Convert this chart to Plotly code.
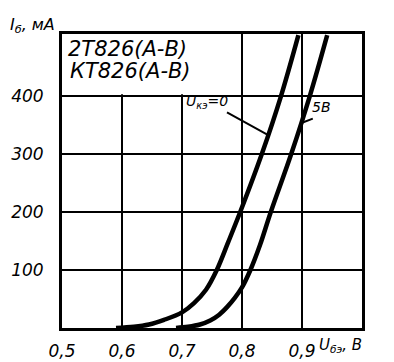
import plotly.graph_objects as go

# Curve data (U_бэ in V, I_б in mA)
u_ce0_x = [0.59, 0.62, 0.645, 0.67, 0.70, 0.72, 0.74, 0.758, 0.777, 0.797, 0.833, 0.865, 0.894]
u_ce0_y = [0, 2, 6, 14, 27, 43, 66, 100, 148, 200, 300, 400, 505]

u_ce5_x = [0.69, 0.71, 0.73, 0.747, 0.762, 0.775, 0.788, 0.80, 0.814, 0.830, 0.848, 0.882, 0.913, 0.942]
u_ce5_y = [0, 2, 6, 13, 23, 36, 52, 70, 100, 143, 200, 300, 400, 505]

x_ticks = [0.5, 0.6, 0.7, 0.8, 0.9]
x_tick_labels = ["0,5", "0,6", "0,7", "0,8", "0,9"]
y_ticks = [100, 200, 300, 400]
y_tick_labels = ["100", "200", "300", "400"]

FONT = "DejaVu Sans"
BLACK = "#000000"

fig = go.Figure()
for xs, ys in [(u_ce0_x, u_ce0_y), (u_ce5_x, u_ce5_y)]:
    fig.add_trace(go.Scatter(x=xs, y=ys, mode="lines",
                             line=dict(color=BLACK, width=4.5, shape="spline", smoothing=1.0),
                             showlegend=False, hoverinfo="skip"))

# leader lines for the curve labels
fig.add_trace(go.Scatter(x=[0.775, 0.843], y=[372, 333], mode="lines",
                         line=dict(color=BLACK, width=2), showlegend=False, hoverinfo="skip"))
fig.add_trace(go.Scatter(x=[0.918, 0.898], y=[361, 353], mode="lines",
                         line=dict(color=BLACK, width=2), showlegend=False, hoverinfo="skip"))

# white area behind the title block (hides grid)
fig.add_shape(type="rect", xref="x", yref="y", x0=0.5, x1=0.705, y0=403, y1=507,
              fillcolor="white", line=dict(width=0), layer="between")

fig.update_layout(
    width=394, height=362,
    margin=dict(l=54, r=40, t=26, b=42, autoexpand=False),
    paper_bgcolor="white", plot_bgcolor="white",
    font=dict(family=FONT, color=BLACK, size=16, style="italic"),
)
fig.update_xaxes(range=[0.5, 1.0], tickvals=x_ticks, ticktext=x_tick_labels,
                 showgrid=True, gridcolor=BLACK, gridwidth=2, automargin=False,
                 showline=True, linecolor=BLACK, linewidth=3, mirror=True,
                 ticks="", ticklabelstandoff=6, zeroline=False,
                 tickfont=dict(family=FONT, size=17, style="italic", color=BLACK))
fig.update_yaxes(range=[0, 507], tickvals=y_ticks, ticktext=y_tick_labels,
                 showgrid=True, gridcolor=BLACK, gridwidth=2, automargin=False,
                 showline=True, linecolor=BLACK, linewidth=3, mirror=True,
                 ticks="", ticklabelstandoff=12, zeroline=False,
                 tickfont=dict(family=FONT, size=17, style="italic", color=BLACK))

ann_font = dict(family=FONT, color=BLACK, style="italic")
fig.add_annotation(xref="paper", yref="paper", x=-0.18, y=1.0, yanchor="bottom", xanchor="left",
                   yshift=-4, text="I<sub>б</sub>, мА", showarrow=False, font=dict(size=16, **ann_font))
fig.add_annotation(xref="x", yref="y", x=0.508, y=482, xanchor="left", yanchor="middle",
                   text="2Т826(А-В)", showarrow=False, borderpad=0, font=dict(size=21, **ann_font))
fig.add_annotation(xref="x", yref="y", x=0.512, y=444, xanchor="left", yanchor="middle",
                   text="КТ826(А-В)", showarrow=False, borderpad=0, font=dict(size=21, **ann_font))
fig.add_annotation(xref="x", yref="y", x=0.703, y=390, xanchor="left", yanchor="middle",
                   text="U<sub>кэ</sub>=0", showarrow=False, font=dict(size=14, **ann_font))
fig.add_annotation(xref="x", yref="y", x=0.914, y=381, xanchor="left", yanchor="middle",
                   text="5В", showarrow=False, font=dict(size=14, **ann_font))
fig.add_annotation(xref="x", yref="paper", x=0.925, y=0, xanchor="left", yanchor="top", yshift=-6,
                   text="U<sub>бэ</sub>, В", showarrow=False, font=dict(size=15, **ann_font))

fig.write_html("out.html")
